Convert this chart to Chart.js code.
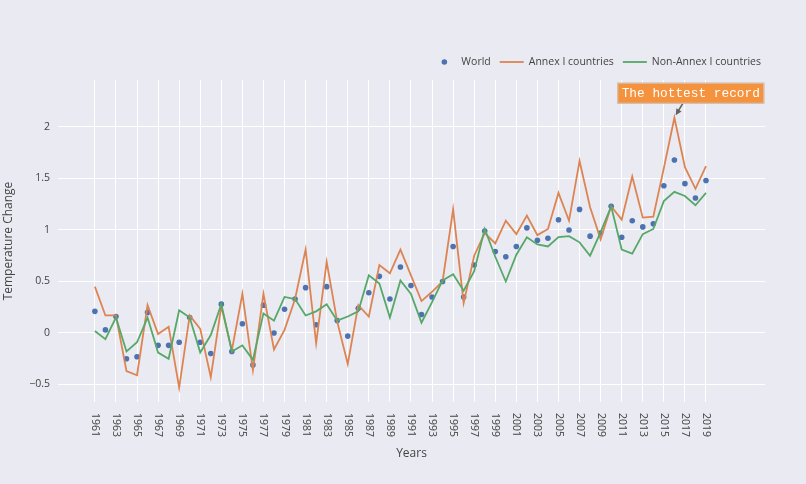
<!DOCTYPE html>
<html>
<head>
<meta charset="utf-8">
<script src="https://cdn.jsdelivr.net/npm/chart.js@4.4.1/dist/chart.umd.min.js"></script>
<style>
  html, body { margin: 0; padding: 0; background: #eaeaf2; }
  #chart { display: block; }
</style>
</head>
<body>
<canvas id="chart" width="806" height="484"></canvas>
<script>
// Years on the x axis
const years = [
    1961, 1962, 1963, 1964, 1965, 1966, 1967, 1968, 1969, 1970,
    1971, 1972, 1973, 1974, 1975, 1976, 1977, 1978, 1979, 1980,
    1981, 1982, 1983, 1984, 1985, 1986, 1987, 1988, 1989, 1990,
    1991, 1992, 1993, 1994, 1995, 1996, 1997, 1998, 1999, 2000,
    2001, 2002, 2003, 2004, 2005, 2006, 2007, 2008, 2009, 2010,
    2011, 2012, 2013, 2014, 2015, 2016, 2017, 2018, 2019
];

// Temperature change per series
const worldValues = [
    0.21, 0.03, 0.16, -0.25, -0.23, 0.20, -0.12, -0.12, -0.09, 0.15,
    -0.09, -0.20, 0.28, -0.18, 0.09, -0.31, 0.27, 0.00, 0.23, 0.33,
    0.44, 0.08, 0.45, 0.12, -0.03, 0.24, 0.39, 0.55, 0.33, 0.64,
    0.46, 0.18, 0.35, 0.50, 0.84, 0.35, 0.66, 0.99, 0.79, 0.74,
    0.84, 1.02, 0.90, 0.92, 1.10, 1.00, 1.20, 0.94, 0.97, 1.23,
    0.93, 1.09, 1.03, 1.06, 1.43, 1.68, 1.45, 1.31, 1.48
];
const annexValues = [
    0.45, 0.17, 0.17, -0.37, -0.41, 0.27, -0.01, 0.06, -0.53, 0.17,
    0.04, -0.43, 0.26, -0.17, 0.38, -0.36, 0.38, -0.16, 0.03, 0.33,
    0.81, -0.10, 0.69, 0.11, -0.30, 0.27, 0.16, 0.66, 0.58, 0.81,
    0.56, 0.31, 0.40, 0.50, 1.20, 0.29, 0.75, 0.97, 0.87, 1.09,
    0.96, 1.14, 0.95, 1.01, 1.36, 1.09, 1.67, 1.22, 0.91, 1.23,
    1.10, 1.52, 1.12, 1.13, 1.60, 2.09, 1.61, 1.40, 1.62
];
const nonAnnexValues = [
    0.02, -0.06, 0.15, -0.18, -0.09, 0.15, -0.19, -0.25, 0.22, 0.15,
    -0.19, -0.02, 0.28, -0.18, -0.12, -0.26, 0.19, 0.12, 0.35, 0.33,
    0.17, 0.21, 0.28, 0.12, 0.16, 0.21, 0.56, 0.48, 0.15, 0.51,
    0.38, 0.10, 0.30, 0.51, 0.57, 0.41, 0.60, 1.01, 0.74, 0.50,
    0.76, 0.93, 0.86, 0.84, 0.93, 0.94, 0.88, 0.75, 0.98, 1.23,
    0.81, 0.77, 0.96, 1.01, 1.28, 1.37, 1.33, 1.24, 1.36
];

// Tick labels
const xTickYears = [
    1961, 1963, 1965, 1967, 1969, 1971, 1973, 1975, 1977, 1979,
    1981, 1983, 1985, 1987, 1989, 1991, 1993, 1995, 1997, 1999,
    2001, 2003, 2005, 2007, 2009, 2011, 2013, 2015, 2017, 2019
];
const yTickValues = [-0.5, 0, 0.5, 1, 1.5, 2];

// Annotation
const recordYear = 2016;
const recordText = 'The hottest record';

const TEXT_COLOR = '#444';
Chart.defaults.font.family = "'Open Sans', sans-serif";
Chart.defaults.color = TEXT_COLOR;

function toPoints(values) {
    return years.map((yr, i) => ({ x: yr, y: values[i] }));
}

// Rotated (clockwise) year labels under the plot
const xLabelsPlugin = {
    id: 'xLabels',
    afterDraw(chart) {
        const ctx = chart.ctx;
        const xs = chart.scales.x;
        ctx.save();
        ctx.font = "10.5px 'Open Sans'";
        ctx.fillStyle = TEXT_COLOR;
        ctx.textAlign = 'left';
        ctx.textBaseline = 'middle';
        xs.ticks.forEach(t => {
            const px = xs.getPixelForValue(t.value);
            ctx.save();
            ctx.translate(px, chart.chartArea.bottom + 11);
            ctx.rotate(Math.PI / 2);
            ctx.fillText(String(t.value), 0, 0);
            ctx.restore();
        });
        ctx.restore();
    }
};

// Legend in the top right corner
const topLegendPlugin = {
    id: 'topLegend',
    afterDraw(chart) {
        const ctx = chart.ctx;
        const y = 62;
        const symbolW = 24, textGap = 5, itemGap = 9;
        ctx.save();
        ctx.font = "10.5px 'Open Sans'";
        ctx.textBaseline = 'middle';
        ctx.textAlign = 'left';
        const items = chart.data.datasets.map(ds => ({ ds: ds, w: ctx.measureText(ds.label).width }));
        let total = 0;
        items.forEach(it => { total += symbolW + textGap + it.w; });
        total += itemGap * (items.length - 1);
        let x = 761 - total;
        items.forEach(it => {
            if (it.ds.showLine === false) {
                ctx.fillStyle = it.ds.pointBackgroundColor;
                ctx.beginPath();
                ctx.arc(x + symbolW / 2, y, 2.8, 0, Math.PI * 2);
                ctx.fill();
            } else {
                ctx.strokeStyle = it.ds.borderColor;
                ctx.lineWidth = 1.8;
                ctx.beginPath();
                ctx.moveTo(x, y);
                ctx.lineTo(x + symbolW, y);
                ctx.stroke();
            }
            ctx.fillStyle = TEXT_COLOR;
            ctx.fillText(it.ds.label, x + symbolW + textGap, y);
            x += symbolW + textGap + it.w + itemGap;
        });
        ctx.restore();
    }
};

// "The hottest record" box with arrow to the 2016 Annex I value
const annotationPlugin = {
    id: 'hottestRecord',
    afterDatasetsDraw(chart) {
        const ctx = chart.ctx;
        const i = years.indexOf(recordYear);
        const px = chart.scales.x.getPixelForValue(recordYear);
        const py = chart.scales.y.getPixelForValue(annexValues[i]);

        const tipX = px + 1.3, tipY = py - 2.5;
        const tailX = px + 8.3, tailY = py - 14;
        const boxW = 147, boxH = 21;
        const boxCx = px + 16.4, boxBottom = tailY;

        ctx.save();
        // arrow
        ctx.strokeStyle = '#636363';
        ctx.fillStyle = '#636363';
        ctx.lineWidth = 1.6;
        const ang = Math.atan2(tipY - tailY, tipX - tailX);
        const headLen = 7;
        ctx.beginPath();
        ctx.moveTo(tailX, tailY);
        ctx.lineTo(tipX - Math.cos(ang) * headLen * 0.8, tipY - Math.sin(ang) * headLen * 0.8);
        ctx.stroke();
        ctx.beginPath();
        ctx.moveTo(tipX, tipY);
        ctx.lineTo(tipX - headLen * Math.cos(ang - 0.45), tipY - headLen * Math.sin(ang - 0.45));
        ctx.lineTo(tipX - headLen * Math.cos(ang + 0.45), tipY - headLen * Math.sin(ang + 0.45));
        ctx.closePath();
        ctx.fill();

        // box
        const bx = boxCx - boxW / 2, by = boxBottom - boxH;
        ctx.fillStyle = '#f5923d';
        ctx.fillRect(bx, by, boxW, boxH);
        ctx.strokeStyle = '#c9c9c9';
        ctx.lineWidth = 1;
        ctx.strokeRect(bx + 0.5, by + 0.5, boxW - 1, boxH - 1);

        ctx.fillStyle = '#ffffff';
        ctx.font = "12.8px 'Liberation Mono', 'Courier New', monospace";
        ctx.textAlign = 'center';
        ctx.textBaseline = 'middle';
        ctx.fillText(recordText, boxCx, by + boxH / 2 + 0.5);
        ctx.restore();
    }
};

const ctx = document.getElementById('chart').getContext('2d');
const chart = new Chart(ctx, {
    type: 'line',
    data: {
        datasets: [
            {
                label: 'World',
                data: toPoints(worldValues),
                showLine: false,
                pointRadius: 2.8,
                pointBorderWidth: 0,
                pointBackgroundColor: '#4c72b0',
                borderColor: '#4c72b0',
                order: 3
            },
            {
                label: 'Annex I countries',
                data: toPoints(annexValues),
                borderColor: '#dd8452',
                borderWidth: 1.8,
                pointRadius: 0,
                tension: 0,
                order: 2
            },
            {
                label: 'Non-Annex I countries',
                data: toPoints(nonAnnexValues),
                borderColor: '#55a868',
                borderWidth: 1.8,
                pointRadius: 0,
                tension: 0,
                order: 1
            }
        ]
    },
    options: {
        responsive: false,
        animation: false,
        events: [],
        layout: {
            padding: { top: 80, right: 41, left: 0, bottom: 0 }
        },
        plugins: {
            legend: { display: false },
            tooltip: { enabled: false }
        },
        scales: {
            x: {
                type: 'linear',
                min: 1957.5,
                max: 2024.6,
                grid: { color: '#ffffff', lineWidth: 1, drawTicks: false },
                border: { display: false },
                ticks: { display: false },
                afterBuildTicks: scale => {
                    scale.ticks = xTickYears.map(v => ({ value: v }));
                },
                afterFit: scale => { scale.height = 82; },
                title: {
                    display: true,
                    text: 'Years',
                    color: TEXT_COLOR,
                    font: { size: 12 },
                    padding: { top: 0, bottom: 23 }
                }
            },
            y: {
                type: 'linear',
                min: -0.67,
                max: 2.456,
                grid: { color: '#ffffff', lineWidth: 1, drawTicks: false },
                border: { display: false },
                ticks: {
                    padding: 8,
                    color: TEXT_COLOR,
                    font: { size: 10.5 },
                    callback: v => (v < 0 ? '\u2212' + Math.abs(v) : String(v))
                },
                afterBuildTicks: scale => {
                    scale.ticks = yTickValues.map(v => ({ value: v }));
                },
                afterFit: scale => { scale.width = 58; },
                title: {
                    display: true,
                    text: 'Temperature Change',
                    color: TEXT_COLOR,
                    font: { size: 12 },
                    padding: { top: 1, bottom: 0 }
                }
            }
        }
    },
    plugins: [xLabelsPlugin, topLegendPlugin, annotationPlugin]
});
</script>
</body>
</html>
